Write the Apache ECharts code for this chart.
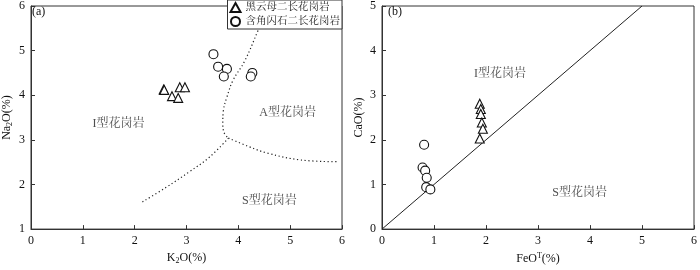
<!DOCTYPE html>
<html><head><meta charset="utf-8">
<script src="https://cdn.jsdelivr.net/npm/echarts@6/dist/echarts.min.js"></script>
<style>html,body{margin:0;padding:0;background:#fff}#c{width:700px;height:270px}</style>
</head><body><div id="c"></div>
<script>
// ---- data ----
const seriesNames = ['黑云母二长花岗岩', '含角闪石二长花岗岩'];
// panel (a): K2O vs Na2O
const aBiotite = [[2.56,4.13],[2.57,4.12],[2.72,3.98],[2.84,3.94],[2.87,4.18],[2.97,4.18]];
const aHornblende = [[3.52,4.92],[3.61,4.64],[3.78,4.59],[3.72,4.42],[4.27,4.50],[4.24,4.42]];
const aBoundaryIA = [[4.58,6.0],[4.38,5.45],[4.12,4.76],[3.90,4.34],[3.78,3.96],[3.71,3.64],[3.70,3.36],[3.73,3.15],[3.81,3.04]];
const aBoundaryIS = [[2.15,1.61],[2.6,1.93],[3.05,2.28],[3.45,2.62],[3.81,3.04]];
const aBoundaryAS = [[3.81,3.04],[4.2,2.85],[4.57,2.70],[5.2,2.55],[5.9,2.51]];
const aLabels = [{v:[1.69,3.37],t:'I型花岗岩'},{v:[4.95,3.61],t:'A型花岗岩'},{v:[4.6,1.63],t:'S型花岗岩'}];
// panel (b): FeOT vs CaO
const bBiotite = [[1.88,2.81],[1.90,2.69],[1.90,2.58],[1.92,2.39],[1.94,2.25],[1.88,2.03]];
const bHornblende = [[0.81,1.89],[0.78,1.38],[0.83,1.31],[0.86,1.15],[0.85,0.94],[0.93,0.89]];
const bBoundary = [[0,0],[5,5]];
const bLabels = [{v:[2.27,3.48],t:'I型花岗岩'},{v:[3.8,0.81],t:'S型花岗岩'}];
const yRangeA = [1,6];
const yRangeB = [0,5];

const FONT = '"Liberation Serif","Times New Roman","Noto Serif CJK SC","Noto Sans CJK SC",serif';
const chart = echarts.init(document.getElementById('c'), null, {renderer:'canvas'});
const axisCommon = {
  axisLine:{show:true,onZero:false,lineStyle:{color:'#333',width:1}},
  axisTick:{show:true,inside:true,length:4,lineStyle:{color:'#333'}},
  splitLine:{show:false},
  axisLabel:{color:'#111',fontFamily:FONT,fontSize:12,margin:6}
};
const hollow = (sym) => ({type:'scatter',symbol:sym,symbolSize:9,
  itemStyle:{color:'#fff',borderColor:'#111',borderWidth:1.1,opacity:1},z:3});
const dotted = (xi,data)=>({type:'line',xAxisIndex:xi,yAxisIndex:xi,data,smooth:0.4,symbol:'none',
  lineStyle:{color:'#222',width:1.2,type:[1.2,2.6]},silent:true,z:2});
const labelSeries = (xi,arr)=>({type:'scatter',xAxisIndex:xi,yAxisIndex:xi,symbolSize:1,silent:true,
  itemStyle:{color:'rgba(0,0,0,0)'},
  data:arr.map(o=>({value:o.v,label:{show:true,formatter:o.t,position:'inside',align:'center',verticalAlign:'middle',color:'#222',fontFamily:FONT,fontSize:12}}))});

chart.setOption({
  animation:false,
  backgroundColor:'#fff',
  grid:[
    {left:26,top:1,width:316,height:238,show:true,borderColor:'#333',borderWidth:1},
    {left:382,top:1,width:316,height:238,show:true,borderColor:'#333',borderWidth:1}
  ],
  legend:{
    data:seriesNames, orient:'vertical', right:358, top:0,
    itemWidth:10,itemHeight:9,itemGap:3,padding:[2,2,2,2],
    backgroundColor:'#fff',borderColor:'#333',borderWidth:1,borderRadius:0,
    textStyle:{fontFamily:FONT,fontSize:10.5,color:'#222'},z:10
  },
  xAxis:[
    Object.assign({gridIndex:0,type:'value',min:0,max:6,interval:1,
      name:'{n|K}{s|2}{n|O(%)}',nameLocation:'middle',nameGap:20,
      nameTextStyle:{rich:{n:{fontFamily:FONT,fontSize:12,color:'#111'},s:{fontFamily:FONT,fontSize:8,color:'#111',padding:[6,0,0,0]}}}},axisCommon),
    Object.assign({gridIndex:1,type:'value',min:0,max:6,interval:1,
      name:'{n|FeO}{s|T}{n|(%)}',nameLocation:'middle',nameGap:20,
      nameTextStyle:{rich:{n:{fontFamily:FONT,fontSize:12,color:'#111'},s:{fontFamily:FONT,fontSize:8,color:'#111',padding:[0,0,6,0]}}}},axisCommon)
  ],
  yAxis:[
    Object.assign({gridIndex:0,type:'value',min:yRangeA[0],max:yRangeA[1],interval:1,
      name:'{n|Na}{s|2}{n|O(%)}',nameLocation:'middle',nameGap:17,
      nameTextStyle:{rich:{n:{fontFamily:FONT,fontSize:12,color:'#111'},s:{fontFamily:FONT,fontSize:8,color:'#111',padding:[6,0,0,0]}}}},axisCommon),
    Object.assign({gridIndex:1,type:'value',min:yRangeB[0],max:yRangeB[1],interval:1,
      name:'CaO(%)',nameLocation:'middle',nameGap:17,
      nameTextStyle:{fontFamily:FONT,fontSize:12,color:'#111'}},axisCommon)
  ],
  graphic:[
    {type:'text',x:32,y:6,z:100,style:{text:'(a)',font:'12px '+FONT,fill:'#111'}},
    {type:'text',x:388,y:6,z:100,style:{text:'(b)',font:'12px '+FONT,fill:'#111'}}
  ],
  series:[
    dotted(0,aBoundaryIA), dotted(0,aBoundaryIS), dotted(0,aBoundaryAS),
    {type:'line',xAxisIndex:1,yAxisIndex:1,data:bBoundary,symbol:'none',lineStyle:{color:'#222',width:1},silent:true},
    Object.assign(hollow('triangle'),{name:seriesNames[0],xAxisIndex:0,yAxisIndex:0,data:aBiotite}),
    Object.assign(hollow('circle'),{name:seriesNames[1],xAxisIndex:0,yAxisIndex:0,data:aHornblende}),
    Object.assign(hollow('triangle'),{name:seriesNames[0],xAxisIndex:1,yAxisIndex:1,data:bBiotite}),
    Object.assign(hollow('circle'),{name:seriesNames[1],xAxisIndex:1,yAxisIndex:1,data:bHornblende}),
    labelSeries(0,aLabels), labelSeries(1,bLabels)
  ]
});
</script></body></html>
